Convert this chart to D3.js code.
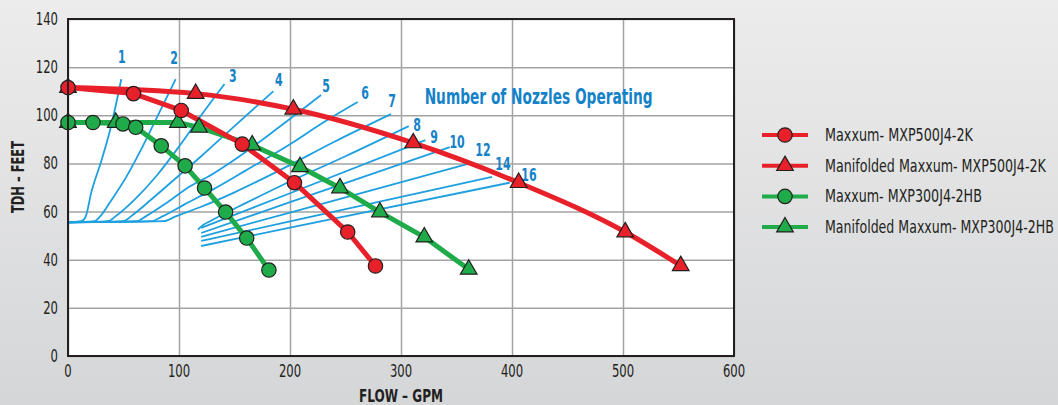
<!DOCTYPE html>
<html>
<head>
<meta charset="utf-8">
<script src="https://cdn.jsdelivr.net/npm/d3@7"></script>
<style>
  html, body { margin: 0; padding: 0; }
  body { width: 1058px; height: 405px; overflow: hidden; }
  text { font-family: "DejaVu Sans Condensed", "DejaVu Sans", sans-serif; }
</style>
</head>
<body>
<div id="chart"></div>
<script>
"use strict";

// axis ticks
var flowTicks = [0, 100, 200, 300, 400, 500, 600];
var headTicks = [0, 20, 40, 60, 80, 100, 120, 140];

// pump curves (flow in GPM, head in feet)
var mxp500Flow = [0, 59, 102, 157, 204, 252, 277];
var mxp500Head = [111.5, 109, 102, 88, 72, 51.5, 37.4];

var mxp500ManFlow = [0, 115, 203, 311, 406, 502, 552];
var mxp500ManHead = [111.5, 109, 102.5, 88.5, 72, 51.5, 37.5];

var mxp300Flow = [0, 22.5, 49.5, 61, 84, 105.5, 123, 142, 161, 181];
var mxp300Head = [97, 97, 96.4, 95, 87.3, 79, 69.8, 59.8, 49, 35.7];

var mxp300ManFlow = [0, 43, 99, 118, 166, 209, 245, 281, 321, 361];
var mxp300ManHead = [97, 97, 97, 95, 87.6, 78.6, 69.8, 59.8, 49.4, 36];

// nozzle system curves, [flow, head] points
var nozzleLabels = ["1", "2", "3", "4", "5", "6", "7", "8", "9", "10", "12", "14", "16"];
var nozzleCurves = [
  [[0, 55.5], [12, 56], [16, 58], [21, 68], [30, 81], [38, 94], [48, 115]],
  [[0, 55.5], [24, 56], [29, 58], [38, 64], [52, 74], [65, 85], [80, 99], [97, 115]],
  [[0, 55.5], [36, 56], [44, 58.5], [60, 65], [80, 75], [100, 87], [120, 100], [141, 113]],
  [[0, 55.5], [50, 56], [58, 58.5], [75, 65], [100, 75], [120, 83], [150, 95.5], [185, 110]],
  [[0, 55.5], [62, 56], [70, 58], [90, 64], [110, 70.5], [130, 75.5], [150, 81.5], [190, 95], [228, 108.4]],
  [[0, 55.5], [75, 56], [85, 58], [105, 63], [130, 69], [160, 77], [200, 88], [230, 97], [261, 105.5]],
  [[0, 55.5], [86, 56], [97, 58], [120, 62], [150, 68], [190, 77], [240, 89], [291, 100.5]],
  [[117, 52.5], [122, 54.5], [128, 56], [160, 63.5], [200, 72.5], [250, 83], [307, 95.5]],
  [[120, 53.2], [200, 67.6], [322, 89.7]],
  [[120, 51.1], [200, 63.9], [344, 86.8]],
  [[120, 49.5], [200, 59.6], [362, 80]],
  [[120, 47.8], [200, 55.9], [382, 74.4]],
  [[120, 45.7], [200, 53.3], [398, 72]]
];
var nozzleLabelAt = [
  [48.6, 124.2], [95.5, 123.8], [148.6, 116.3], [190, 114.7], [232.4, 112.2],
  [267.6, 109.3], [291.9, 105.9], [314.4, 96], [329.7, 91], [350.5, 88.9],
  [373.9, 85.6], [391.9, 79.8], [415.3, 75.2]
];

var seriesNames = [
  "Maxxum- MXP500J4-2K",
  "Manifolded Maxxum- MXP500J4-2K",
  "Maxxum- MXP300J4-2HB",
  "Manifolded Maxxum- MXP300J4-2HB"
];

var red = "#e8202a", green = "#1fab4a", blue = "#1ea0e0", labelBlue = "#1582c8";

var series = [
  { name: seriesNames[0], flow: mxp500Flow, head: mxp500Head, color: red, shape: "circle", curve: d3.curveLinear, textW: 148 },
  { name: seriesNames[1], flow: mxp500ManFlow, head: mxp500ManHead, color: red, shape: "triangle", curve: d3.curveMonotoneX, textW: 221 },
  { name: seriesNames[2], flow: mxp300Flow, head: mxp300Head, color: green, shape: "circle", curve: d3.curveLinear, textW: 157 },
  { name: seriesNames[3], flow: mxp300ManFlow, head: mxp300ManHead, color: green, shape: "triangle", curve: d3.curveLinear, textW: 229 }
];

var width = 1058, height = 405;
var margin = { top: 19, right: 324, bottom: 49, left: 68 };

var x = d3.scaleLinear().domain([0, 600]).range([margin.left, width - margin.right]);
var y = d3.scaleLinear().domain([0, 140]).range([height - margin.bottom, margin.top]);

// the chart uses a narrow face: squeeze text horizontally
function squeeze(sel, factor, target) {
  sel.each(function() {
    var w = target || this.getComputedTextLength() * factor;
    d3.select(this).attr("textLength", w).attr("lengthAdjust", "spacingAndGlyphs");
  });
}

var svg = d3
  .select("#chart")
  .append("svg")
  .attr("width", width)
  .attr("height", height);

var grad = svg
  .append("defs")
  .append("linearGradient")
  .attr("id", "bg")
  .attr("x1", 0).attr("y1", 0).attr("x2", 0).attr("y2", 1);
grad.append("stop").attr("offset", "0%").attr("stop-color", "#ececec");
grad.append("stop").attr("offset", "100%").attr("stop-color", "#d5d6d8");

svg.append("rect").attr("width", width).attr("height", height).attr("fill", "url(#bg)");

// plot area
svg
  .append("rect")
  .attr("x", x(0))
  .attr("y", y(140))
  .attr("width", x(600) - x(0))
  .attr("height", y(0) - y(140))
  .attr("fill", "#fff");

svg
  .append("g")
  .attr("transform", "translate(0," + y(0) + ")")
  .call(d3.axisBottom(x).tickValues(flowTicks).tickSize(-(y(0) - y(140))).tickFormat(""))
  .call(function(g) {
    g.select(".domain").remove();
    g.selectAll("line").attr("stroke", "#a3a3a3").attr("stroke-width", 1.5);
  });

svg
  .append("g")
  .attr("transform", "translate(" + x(0) + ",0)")
  .call(d3.axisLeft(y).tickValues(headTicks).tickSize(-(x(600) - x(0))).tickFormat(""))
  .call(function(g) {
    g.select(".domain").remove();
    g.selectAll("line").attr("stroke", "#a3a3a3").attr("stroke-width", 1.5);
  });

// tick labels
svg
  .selectAll(".xlab")
  .data(flowTicks)
  .enter()
  .append("text")
  .attr("x", function(d) { return x(d); })
  .attr("y", y(0) + 21)
  .attr("text-anchor", "middle")
  .attr("font-size", 17)
  .attr("fill", "#231f20")
  .text(function(d) { return d; })
  .call(squeeze, 0.76);

svg
  .selectAll(".ylab")
  .data(headTicks)
  .enter()
  .append("text")
  .attr("x", x(0) - 10)
  .attr("y", function(d) { return y(d) + 6; })
  .attr("text-anchor", "end")
  .attr("font-size", 17)
  .attr("fill", "#231f20")
  .text(function(d) { return d; })
  .call(squeeze, 0.76);

// nozzle curves
var nozzleLine = d3
  .line()
  .curve(d3.curveMonotoneX)
  .x(function(d) { return x(d[0]); })
  .y(function(d) { return y(d[1]); });

svg
  .append("g")
  .selectAll("path")
  .data(nozzleCurves)
  .enter()
  .append("path")
  .attr("d", nozzleLine)
  .attr("fill", "none")
  .attr("stroke", blue)
  .attr("stroke-width", 1.8);

svg
  .append("g")
  .selectAll("text")
  .data(nozzleLabels)
  .enter()
  .append("text")
  .attr("x", function(d, i) { return x(nozzleLabelAt[i][0]); })
  .attr("y", function(d, i) { return y(nozzleLabelAt[i][1]); })
  .attr("dy", "0.36em")
  .attr("text-anchor", "middle")
  .attr("font-size", 17)
  .attr("font-weight", "bold")
  .attr("fill", labelBlue)
  .text(function(d) { return d; })
  .call(squeeze, 0.72);

svg
  .append("text")
  .attr("x", x(424))
  .attr("y", y(108))
  .attr("dy", "0.36em")
  .attr("text-anchor", "middle")
  .attr("font-size", 21)
  .attr("font-weight", "bold")
  .attr("fill", labelBlue)
  .text("Number of Nozzles Operating")
  .call(squeeze, 1, 228);

// pump lines
var drawOrder = [3, 2, 1, 0];

drawOrder.forEach(function(i) {
  var s = series[i];
  var pts = s.flow.map(function(f, j) { return [f, s.head[j]]; });
  svg
    .append("path")
    .datum(pts)
    .attr("d", d3.line().curve(s.curve).x(function(d) { return x(d[0]); }).y(function(d) { return y(d[1]); }))
    .attr("fill", "none")
    .attr("stroke", s.color)
    .attr("stroke-width", 5)
    .attr("stroke-linejoin", "round");
});

function marker(sel, s) {
  if (s.shape === "circle") {
    sel.append("circle").attr("r", 7.2);
  } else {
    sel.append("path").attr("d", d3.symbol().type(d3.symbolTriangle).size(120)());
  }
  sel.selectAll("circle, path")
    .attr("fill", s.color)
    .attr("stroke", "#231f20")
    .attr("stroke-width", 1.2);
}

drawOrder.forEach(function(i) {
  var s = series[i];
  s.flow.forEach(function(f, j) {
    var g = svg.append("g").attr("transform", "translate(" + x(f) + "," + y(s.head[j]) + ")");
    marker(g, s);
  });
});

// border
svg
  .append("rect")
  .attr("x", x(0))
  .attr("y", y(140))
  .attr("width", x(600) - x(0))
  .attr("height", y(0) - y(140))
  .attr("fill", "none")
  .attr("stroke", "#231f20")
  .attr("stroke-width", 2);

// axis titles
svg
  .append("text")
  .attr("x", x(300))
  .attr("y", 402)
  .attr("text-anchor", "middle")
  .attr("font-size", 18)
  .attr("font-weight", "bold")
  .attr("fill", "#231f20")
  .text("FLOW \u2013 GPM")
  .call(squeeze, 1, 84);

svg
  .append("text")
  .attr("transform", "translate(24,177) rotate(-90)")
  .attr("text-anchor", "middle")
  .attr("font-size", 18)
  .attr("font-weight", "bold")
  .attr("fill", "#231f20")
  .text("TDH \u2013 FEET")
  .call(squeeze, 1, 72);

// legend
var legend = svg
  .append("g")
  .selectAll("g")
  .data(series)
  .enter()
  .append("g")
  .attr("transform", function(d, i) { return "translate(762," + (135 + i * 30.7) + ")"; });

legend
  .append("line")
  .attr("x1", 0)
  .attr("x2", 46)
  .attr("stroke", function(d) { return d.color; })
  .attr("stroke-width", 4);

legend.each(function(d) {
  var g = d3.select(this).append("g").attr("transform", "translate(23,0)");
  marker(g, d);
});

// scale the legend text so its box really ends where the reference's does
legend
  .append("text")
  .attr("font-size", 18)
  .attr("fill", "#231f20")
  .text(function(d) { return d.name; })
  .each(function(d) {
    var k = d.textW / this.getComputedTextLength();
    d3.select(this).attr("transform", "translate(63,6) scale(" + k + ",1)");
  });
</script>
</body>
</html>
